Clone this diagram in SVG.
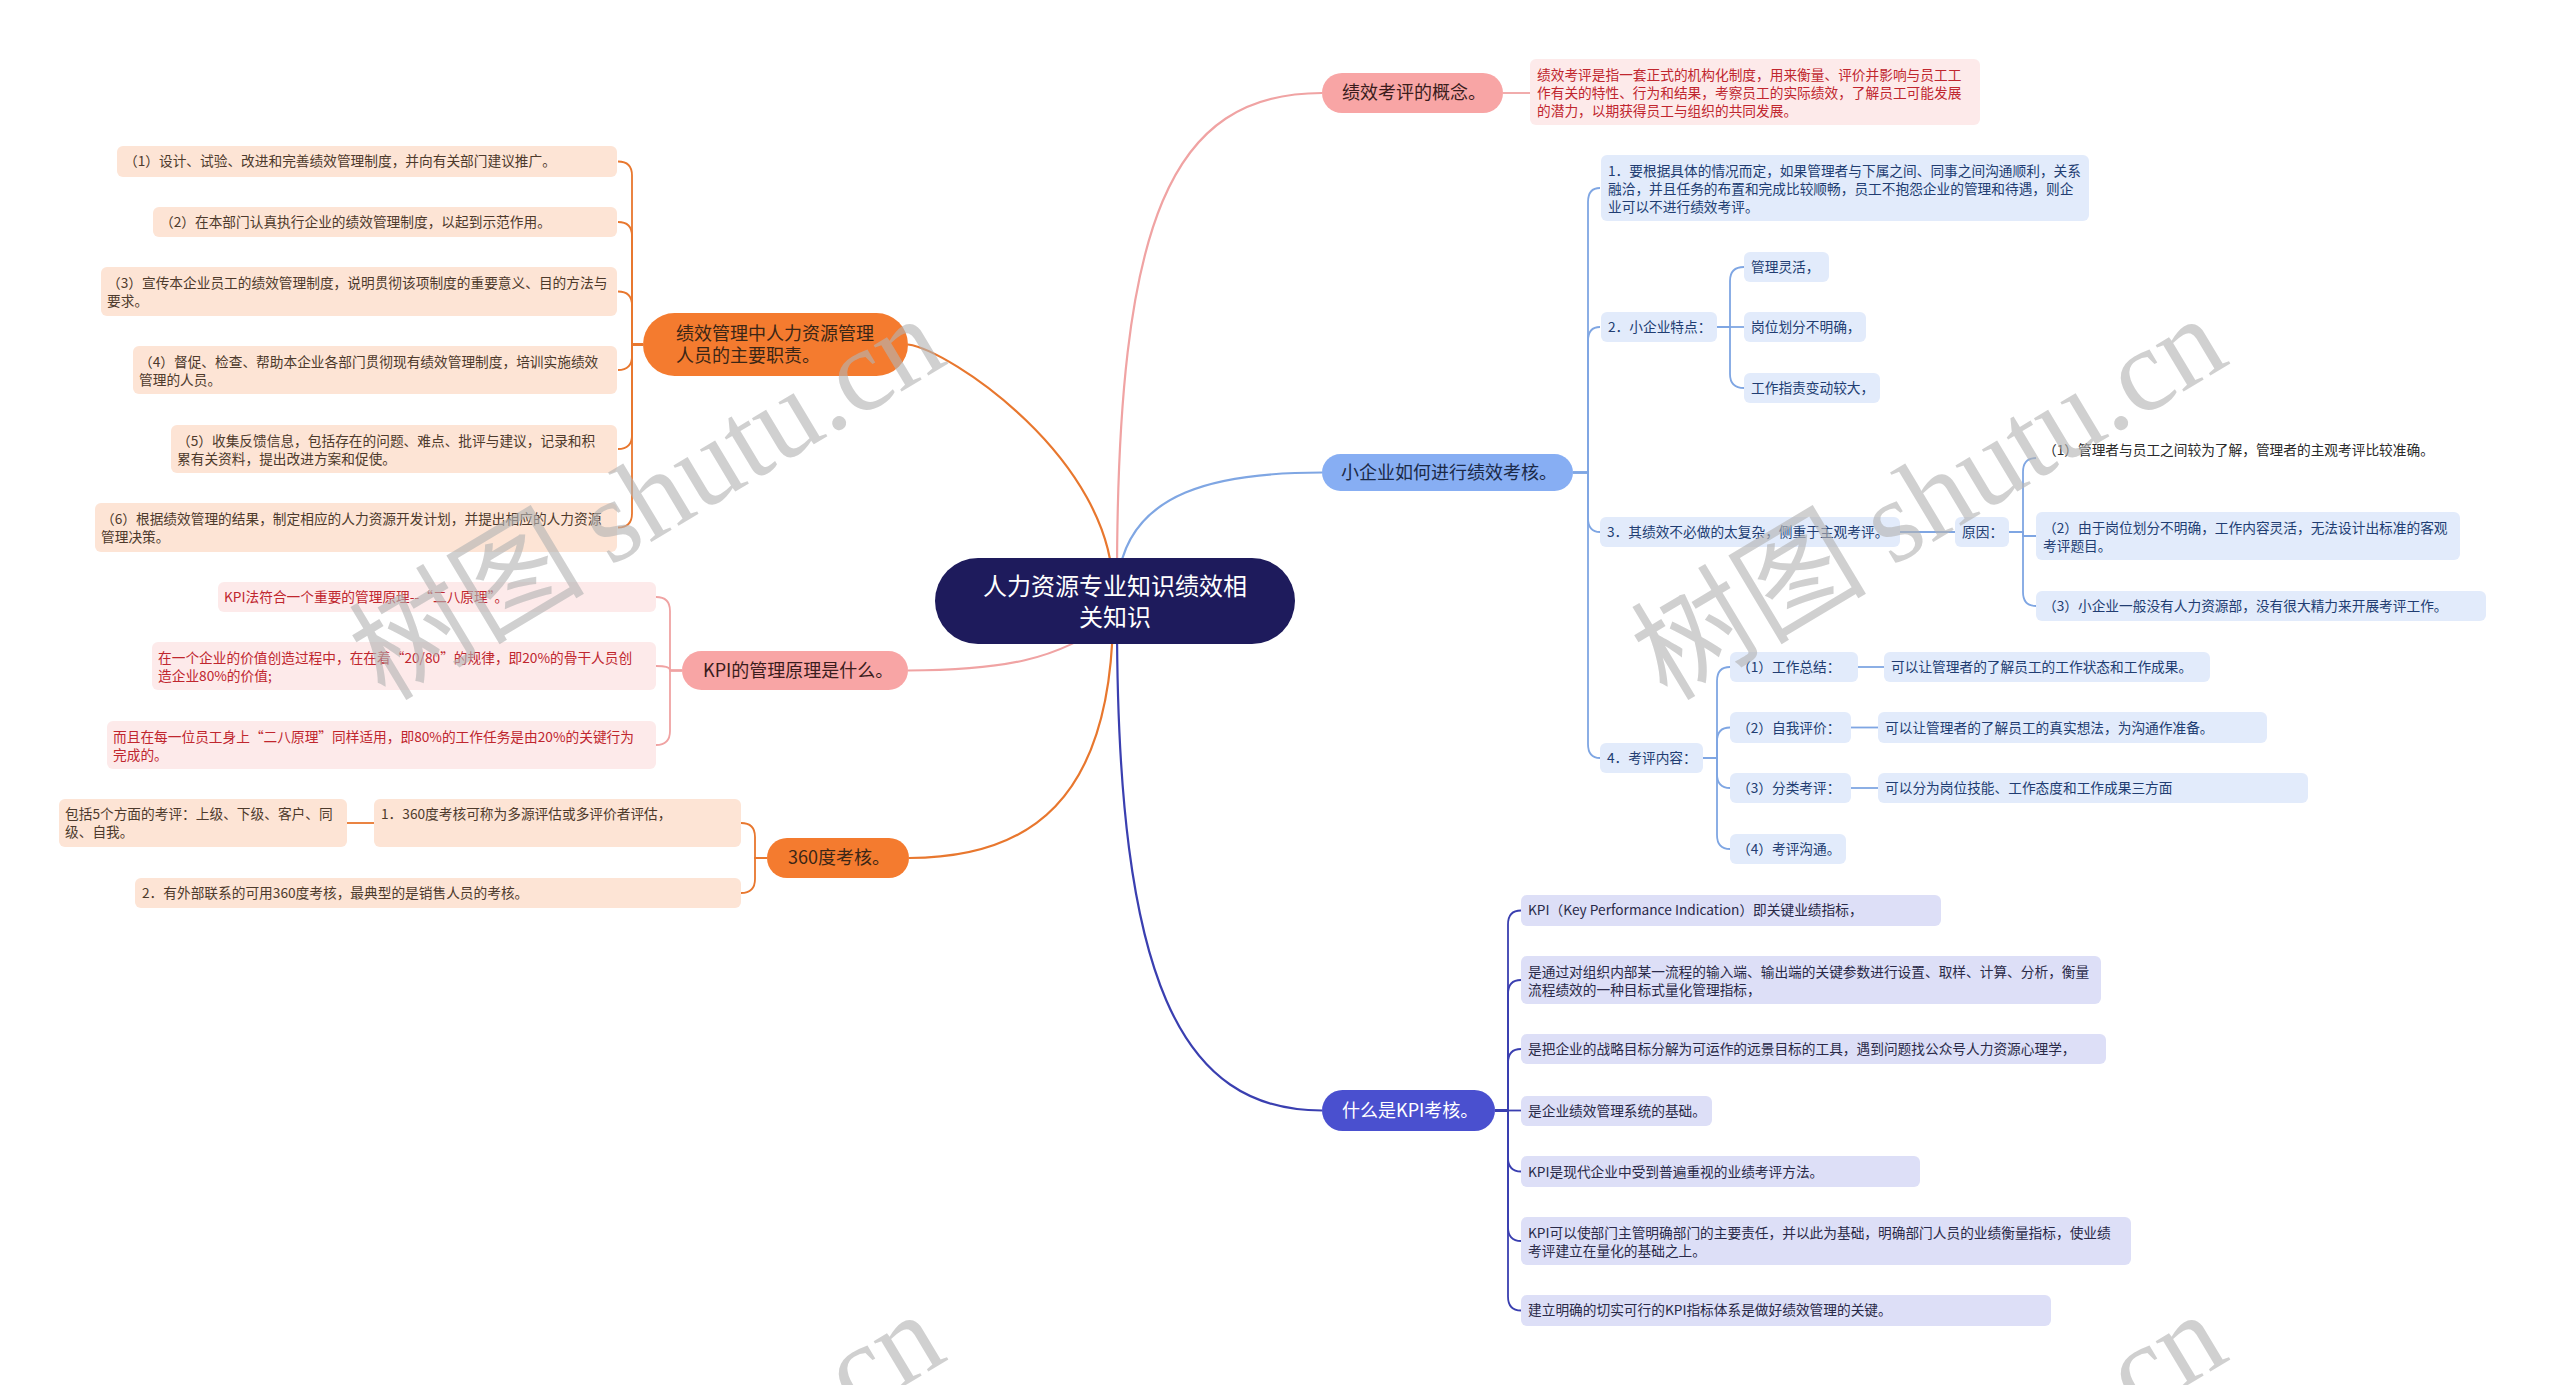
<svg xmlns="http://www.w3.org/2000/svg" width="2560" height="1385" viewBox="0 0 2560 1385">
<style>
text{font-family:"Noto Sans CJK SC","Noto Sans",sans-serif;font-size:13.7px}
.m{font-size:18px}
.c{font-size:24px;fill:#fff}
.ln{fill:none;stroke-width:1.8}
.mln{fill:none;stroke-width:2.2}
.or{fill:#fde4d5}.ot{fill:#4d3a2c}
.pr{fill:#fdeaea}.pt{fill:#c0262e}
.br{fill:#e2ebfb}.bt{fill:#213d72}
.kr{fill:#dddff7}.kt{fill:#2a2a48}
.wm{font-size:118px;fill:#b4b4b4;opacity:.62}
</style>
<rect width="2560" height="1385" fill="#fff"/>

<g id="connectors">
  <path class="mln" stroke="#e8772e" d="M1113 590 C1113 460 950 350 908 344.5"/>
  <path class="mln" stroke="#f0a3a3" d="M908 670.5 C1000 670.5 1060 660 1110 620"/>
  <path class="mln" stroke="#e8772e" d="M1113 620 C1110 800 1030 858 909 858"/>
  <path class="mln" stroke="#f0a3a3" d="M1117 580 C1117 220 1170 93 1322 93"/>
  <path class="mln" stroke="#7fa6e3" d="M1118 580 C1128 490 1220 472.5 1322 472.5"/>
  <path class="mln" stroke="#3a3fb0" d="M1117 620 C1117 980 1180 1110.5 1322 1110.5"/>

  <g stroke="#e8772e">
    <path class="ln" d="M643 344.5 H632 V175.5 Q632 161.5 618 161.5"/>
    <path class="ln" d="M643 344.5 H632 V236 Q632 222 618 222"/>
    <path class="ln" d="M643 344.5 H632 V305.5 Q632 291.5 618 291.5"/>
    <path class="ln" d="M643 344.5 H632 V356 Q632 370 618 370"/>
    <path class="ln" d="M643 344.5 H632 V435 Q632 449 618 449"/>
    <path class="ln" d="M643 344.5 H632 V513.5 Q632 527.5 618 527.5"/>
  </g>
  <g stroke="#f0a3a3">
    <path class="ln" d="M682 670.5 H670 V611 Q670 597 656 597"/>
    <path class="ln" d="M682 670.5 H670 V670 Q670 666 656 666"/>
    <path class="ln" d="M682 670.5 H670 V731 Q670 745 656 745"/>
  </g>
  <g stroke="#e8772e">
    <path class="ln" d="M767 858 H755 V837 Q755 823 741 823"/>
    <path class="ln" d="M767 858 H755 V879 Q755 893 741 893"/>
    <path class="ln" d="M374 823 H347"/>
  </g>
  <path class="ln" stroke="#f0a3a3" d="M1503 93 H1530"/>
  <g stroke="#7fa6e3">
    <path class="ln" d="M1573 472.5 H1588 V202 Q1588 188 1600 188"/>
    <path class="ln" d="M1573 472.5 H1588 V341 Q1588 327 1600 327"/>
    <path class="ln" d="M1573 472.5 H1588 V518 Q1588 532 1600 532"/>
    <path class="ln" d="M1573 472.5 H1588 V744 Q1588 758 1600 758"/>
    <path class="ln" d="M1717 327 H1730 V281 Q1730 267 1744 267"/>
    <path class="ln" d="M1717 327 H1744"/>
    <path class="ln" d="M1717 327 H1730 V374 Q1730 388 1744 388"/>
    <path class="ln" d="M1900 532 H1955"/>
    <path class="ln" d="M2009 532 H2023 V472 Q2023 458 2036 458"/>
    <path class="ln" d="M2009 532 H2023 V536 H2036"/>
    <path class="ln" d="M2009 532 H2023 V592 Q2023 606 2036 606"/>
    <path class="ln" d="M1703 758 H1717 V681 Q1717 667 1730 667"/>
    <path class="ln" d="M1703 758 H1717 V741.5 Q1717 727.5 1730 727.5"/>
    <path class="ln" d="M1703 758 H1717 V774 Q1717 788 1730 788"/>
    <path class="ln" d="M1703 758 H1717 V835 Q1717 849 1730 849"/>
    <path class="ln" d="M1858 667 H1884"/>
    <path class="ln" d="M1851 727.5 H1878"/>
    <path class="ln" d="M1851 788 H1878"/>
  </g>
  <g stroke="#3a3fb0">
    <path class="ln" d="M1495 1110.5 H1508 V924.5 Q1508 910.5 1521 910.5"/>
    <path class="ln" d="M1495 1110.5 H1508 V994 Q1508 980 1521 980"/>
    <path class="ln" d="M1495 1110.5 H1508 V1063 Q1508 1049 1521 1049"/>
    <path class="ln" d="M1495 1110.5 H1521"/>
    <path class="ln" d="M1495 1110.5 H1508 V1157.5 Q1508 1171.5 1521 1171.5"/>
    <path class="ln" d="M1495 1110.5 H1508 V1227 Q1508 1241 1521 1241"/>
    <path class="ln" d="M1495 1110.5 H1508 V1296.5 Q1508 1310.5 1521 1310.5"/>
  </g>
</g>

<g id="center">
  <rect x="935" y="558" width="360" height="86" rx="43" fill="#1e1b5c"/>
  <text class="c" x="1115" y="595" text-anchor="middle">人力资源专业知识绩效相</text>
  <text class="c" x="1115" y="626" text-anchor="middle">关知识</text>
</g>

<g id="n-duty">
  <rect x="643" y="313" width="265" height="63" rx="31.5" fill="#f47b2f"/>
  <text class="m" x="676" y="340" fill="#3b2616">绩效管理中人力资源管理</text>
  <text class="m" x="676" y="362" fill="#3b2616">人员的主要职责。</text>
</g>
<g id="n-duty-1"><rect class="or" x="117" y="146" width="500" height="31" rx="6"/><text class="ot" x="124" y="166">（1）设计、试验、改进和完善绩效管理制度，并向有关部门建议推广。</text></g>
<g id="n-duty-2"><rect class="or" x="153" y="207" width="464" height="30" rx="6"/><text class="ot" x="160" y="227">（2）在本部门认真执行企业的绩效管理制度，以起到示范作用。</text></g>
<g id="n-duty-3"><rect class="or" x="101" y="267" width="516" height="49" rx="6"/><text class="ot" x="107" y="288">（3）宣传本企业员工的绩效管理制度，说明贯彻该项制度的重要意义、目的方法与</text><text class="ot" x="107" y="306">要求。</text></g>
<g id="n-duty-4"><rect class="or" x="133" y="346" width="484" height="48" rx="6"/><text class="ot" x="139" y="367">（4）督促、检查、帮助本企业各部门贯彻现有绩效管理制度，培训实施绩效</text><text class="ot" x="139" y="385">管理的人员。</text></g>
<g id="n-duty-5"><rect class="or" x="171" y="425" width="446" height="48" rx="6"/><text class="ot" x="177" y="446">（5）收集反馈信息，包括存在的问题、难点、批评与建议，记录和积</text><text class="ot" x="177" y="464">累有关资料，提出改进方案和促使。</text></g>
<g id="n-duty-6"><rect class="or" x="95" y="503" width="522" height="49" rx="6"/><text class="ot" x="101" y="524">（6）根据绩效管理的结果，制定相应的人力资源开发计划，并提出相应的人力资源</text><text class="ot" x="101" y="542">管理决策。</text></g>

<g id="n-kpiprin">
  <rect x="682" y="651" width="226" height="39" rx="19.5" fill="#f8a5a5"/>
  <text class="m" x="703" y="677" fill="#3a1c1c">KPI的管理原理是什么。</text>
</g>
<g id="n-kpiprin-1"><rect class="pr" x="218" y="582" width="438" height="30" rx="6"/><text class="pt" x="224" y="602">KPI法符合一个重要的管理原理--“二八原理”。</text></g>
<g id="n-kpiprin-2"><rect class="pr" x="152" y="642" width="504" height="48" rx="6"/><text class="pt" x="158" y="663">在一个企业的价值创造过程中，在在着“20/80”的规律，即20%的骨干人员创</text><text class="pt" x="158" y="681">造企业80%的价值;</text></g>
<g id="n-kpiprin-3"><rect class="pr" x="107" y="721" width="549" height="48" rx="6"/><text class="pt" x="113" y="742">而且在每一位员工身上“二八原理”同样适用，即80%的工作任务是由20%的关键行为</text><text class="pt" x="113" y="760">完成的。</text></g>

<g id="n-360">
  <rect x="767" y="838" width="142" height="40" rx="20" fill="#f47b2f"/>
  <text class="m" x="788" y="864" fill="#3b2616">360度考核。</text>
</g>
<g id="n-360-1"><rect class="or" x="374" y="799" width="367" height="48" rx="6"/><text class="ot" x="381" y="819">1．360度考核可称为多源评估或多评价者评估，</text></g>
<g id="n-360-1a"><rect class="or" x="59" y="799" width="288" height="48" rx="6"/><text class="ot" x="65" y="819">包括5个方面的考评：上级、下级、客户、同</text><text class="ot" x="65" y="837">级、自我。</text></g>
<g id="n-360-2"><rect class="or" x="135" y="878" width="606" height="30" rx="6"/><text class="ot" x="142" y="898">2．有外部联系的可用360度考核，最典型的是销售人员的考核。</text></g>

<g id="n-concept">
  <rect x="1322" y="73" width="181" height="40" rx="20" fill="#f8a5a5"/>
  <text class="m" x="1342" y="99" fill="#3a1c1c">绩效考评的概念。</text>
</g>
<g id="n-concept-1"><rect class="pr" x="1530" y="59" width="450" height="66" rx="6"/>
  <text class="pt" x="1537" y="80">绩效考评是指一套正式的机构化制度，用来衡量、评价并影响与员工工</text>
  <text class="pt" x="1537" y="98">作有关的特性、行为和结果，考察员工的实际绩效，了解员工可能发展</text>
  <text class="pt" x="1537" y="116">的潜力，以期获得员工与组织的共同发展。</text></g>

<g id="n-small">
  <rect x="1322" y="454" width="251" height="37" rx="18.5" fill="#87aef3"/>
  <text class="m" x="1341" y="479" fill="#1b2a48">小企业如何进行绩效考核。</text>
</g>
<g id="n-small-1"><rect class="br" x="1601" y="155" width="488" height="66" rx="6"/>
  <text class="bt" x="1608" y="176">1．要根据具体的情况而定，如果管理者与下属之间、同事之间沟通顺利，关系</text>
  <text class="bt" x="1608" y="194">融洽，并且任务的布置和完成比较顺畅，员工不抱怨企业的管理和待遇，则企</text>
  <text class="bt" x="1608" y="212">业可以不进行绩效考评。</text></g>
<g id="n-small-2"><rect class="br" x="1601" y="312" width="116" height="30" rx="6"/><text class="bt" x="1608" y="332">2．小企业特点：</text></g>
<g id="n-small-2a"><rect class="br" x="1744" y="252" width="85" height="30" rx="6"/><text class="bt" x="1751" y="272">管理灵活，</text></g>
<g id="n-small-2b"><rect class="br" x="1744" y="312" width="122" height="30" rx="6"/><text class="bt" x="1751" y="332">岗位划分不明确，</text></g>
<g id="n-small-2c"><rect class="br" x="1744" y="373" width="136" height="30" rx="6"/><text class="bt" x="1751" y="393">工作指责变动较大，</text></g>
<g id="n-small-3"><rect class="br" x="1600" y="517" width="300" height="30" rx="6"/><text class="bt" x="1607" y="537">3．其绩效不必做的太复杂，侧重于主观考评。</text></g>
<g id="n-small-3r"><rect class="br" x="1955" y="517" width="54" height="30" rx="6"/><text class="bt" x="1962" y="537">原因：</text></g>
<g id="n-small-3r1"><text x="2043" y="455" fill="#2a2a2a">（1）管理者与员工之间较为了解，管理者的主观考评比较准确。</text></g>
<g id="n-small-3r2"><rect class="br" x="2036" y="512" width="424" height="48" rx="6"/><text class="bt" x="2043" y="533">（2）由于岗位划分不明确，工作内容灵活，无法设计出标准的客观</text><text class="bt" x="2043" y="551">考评题目。</text></g>
<g id="n-small-3r3"><rect class="br" x="2036" y="591" width="450" height="30" rx="6"/><text class="bt" x="2043" y="611">（3）小企业一般没有人力资源部，没有很大精力来开展考评工作。</text></g>
<g id="n-small-4"><rect class="br" x="1600" y="743" width="103" height="30" rx="6"/><text class="bt" x="1607" y="763">4．考评内容：</text></g>
<g id="n-small-4a"><rect class="br" x="1730" y="652" width="128" height="30" rx="6"/><text class="bt" x="1737" y="672">（1）工作总结：</text></g>
<g id="n-small-4a1"><rect class="br" x="1884" y="652" width="326" height="30" rx="6"/><text class="bt" x="1891" y="672">可以让管理者的了解员工的工作状态和工作成果。</text></g>
<g id="n-small-4b"><rect class="br" x="1730" y="712" width="121" height="31" rx="6"/><text class="bt" x="1737" y="733">（2）自我评价：</text></g>
<g id="n-small-4b1"><rect class="br" x="1878" y="712" width="389" height="31" rx="6"/><text class="bt" x="1885" y="733">可以让管理者的了解员工的真实想法，为沟通作准备。</text></g>
<g id="n-small-4c"><rect class="br" x="1730" y="773" width="121" height="30" rx="6"/><text class="bt" x="1737" y="793">（3）分类考评：</text></g>
<g id="n-small-4c1"><rect class="br" x="1878" y="773" width="430" height="30" rx="6"/><text class="bt" x="1885" y="793">可以分为岗位技能、工作态度和工作成果三方面</text></g>
<g id="n-small-4d"><rect class="br" x="1730" y="834" width="116" height="30" rx="6"/><text class="bt" x="1737" y="854">（4）考评沟通。</text></g>

<g id="n-kpi">
  <rect x="1322" y="1090" width="173" height="41" rx="20.5" fill="#4a50cf"/>
  <text class="m" x="1342" y="1117" fill="#fff">什么是KPI考核。</text>
</g>
<g id="n-kpi-1"><rect class="kr" x="1521" y="895" width="420" height="31" rx="6"/><text class="kt" x="1528" y="915">KPI（Key Performance Indication）即关键业绩指标，</text></g>
<g id="n-kpi-2"><rect class="kr" x="1521" y="956" width="580" height="48" rx="6"/><text class="kt" x="1528" y="977">是通过对组织内部某一流程的输入端、输出端的关键参数进行设置、取样、计算、分析，衡量</text><text class="kt" x="1528" y="995">流程绩效的一种目标式量化管理指标，</text></g>
<g id="n-kpi-3"><rect class="kr" x="1521" y="1034" width="585" height="30" rx="6"/><text class="kt" x="1528" y="1054">是把企业的战略目标分解为可运作的远景目标的工具，遇到问题找公众号人力资源心理学，</text></g>
<g id="n-kpi-4"><rect class="kr" x="1521" y="1096" width="191" height="30" rx="6"/><text class="kt" x="1528" y="1116">是企业绩效管理系统的基础。</text></g>
<g id="n-kpi-5"><rect class="kr" x="1521" y="1156" width="399" height="31" rx="6"/><text class="kt" x="1528" y="1177">KPI是现代企业中受到普遍重视的业绩考评方法。</text></g>
<g id="n-kpi-6"><rect class="kr" x="1521" y="1217" width="610" height="48" rx="6"/><text class="kt" x="1528" y="1238">KPI可以使部门主管明确部门的主要责任，并以此为基础，明确部门人员的业绩衡量指标，使业绩</text><text class="kt" x="1528" y="1256">考评建立在量化的基础之上。</text></g>
<g id="n-kpi-7"><rect class="kr" x="1521" y="1295" width="530" height="31" rx="6"/><text class="kt" x="1528" y="1315">建立明确的切实可行的KPI指标体系是做好绩效管理的关键。</text></g>

<g id="watermark">
  <text class="wm" transform="translate(385 702) rotate(-31)">树图 <tspan font-family="Liberation Serif">shutu.cn</tspan></text>
  <text class="wm" transform="translate(1667 702) rotate(-31)">树图 <tspan font-family="Liberation Serif">shutu.cn</tspan></text>
  <text class="wm" transform="translate(385 1698) rotate(-31)">树图 <tspan font-family="Liberation Serif">shutu.cn</tspan></text>
  <text class="wm" transform="translate(1667 1698) rotate(-31)">树图 <tspan font-family="Liberation Serif">shutu.cn</tspan></text>
</g>
</svg>
